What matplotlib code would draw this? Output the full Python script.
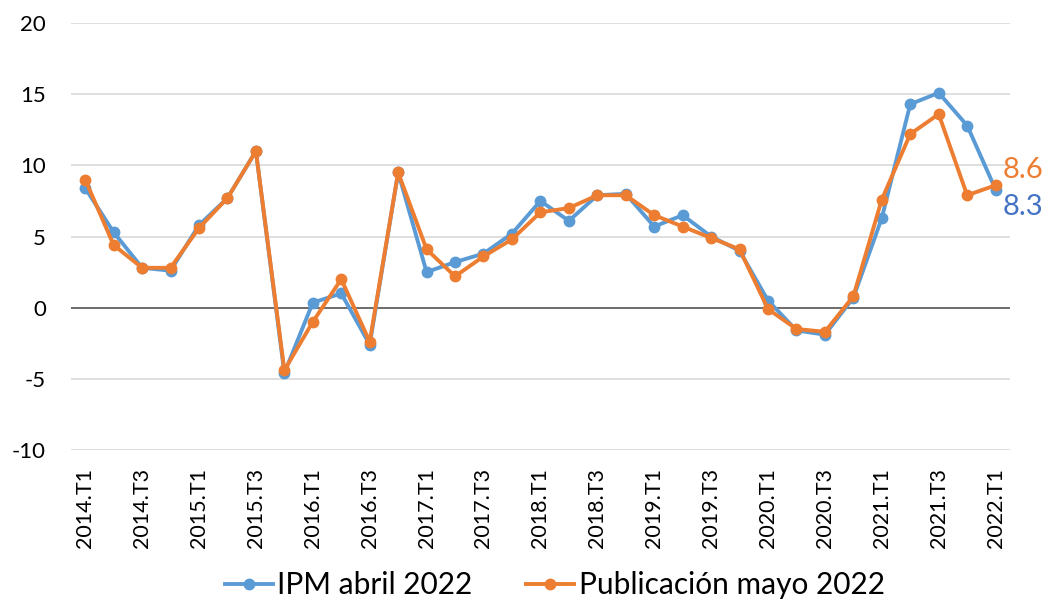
import matplotlib.pyplot as plt

plt.rcParams['font.family'] = ['Lato', 'DejaVu Sans']
plt.rcParams['axes.unicode_minus'] = False

# trimestres 2014.T1 - 2022.T1
trimestres = [f"{a}.T{t}" for a in range(2014, 2023) for t in range(1, 5)][:33]

ipm_abril = [8.4, 5.3, 2.8, 2.6, 5.8, 7.7, 11.0, -4.6, 0.35, 1.0, -2.6, 9.5,
             2.5, 3.2, 3.8, 5.2, 7.5, 6.1, 7.9, 8.0, 5.7, 6.5, 5.0, 4.0,
             0.5, -1.6, -1.9, 0.7, 6.3, 14.3, 15.1, 12.8, 8.3]
pub_mayo = [9.0, 4.4, 2.8, 2.8, 5.6, 7.7, 11.0, -4.4, -1.0, 2.0, -2.4, 9.5,
            4.1, 2.2, 3.6, 4.8, 6.7, 7.0, 7.9, 7.9, 6.5, 5.7, 4.9, 4.1,
            -0.1, -1.5, -1.7, 0.8, 7.6, 12.2, 13.6, 7.9, 8.6]

azul = '#5B9BD5'
naranja = '#ED7D31'

fig = plt.figure(figsize=(10.53, 6.08), dpi=100)
ax = fig.add_axes([0.0674, 0.260, 0.8916, 0.702])

x = list(range(len(trimestres)))
ax.plot(x, ipm_abril, color=azul, lw=2.8, marker='o', ms=7.5, label='IPM abril 2022', zorder=3)
ax.plot(x, pub_mayo, color=naranja, lw=2.8, marker='o', ms=7.5, label='Publicación mayo 2022', zorder=4)

ax.set_ylim(-10, 20)
ax.set_yticks(range(-10, 21, 5))
ax.set_xlim(-0.5, len(trimestres) - 0.5)
ax.set_xticks(x[::2])
ax.set_xticklabels(trimestres[::2], rotation=90, fontsize=15.5)
ax.tick_params(axis='y', labelsize=16, length=0, pad=18)
ax.tick_params(axis='x', length=0, pad=13)

ax.grid(axis='y', color='#D9D9D9', lw=1.2)
ax.axhline(0, color='#595959', lw=1.2, zorder=2)
for s in ax.spines.values():
    s.set_visible(False)

ax.text(len(trimestres) - 0.75, pub_mayo[-1] + 1.1, f"{pub_mayo[-1]:.1f}", color=naranja,
        fontsize=21, va='center', ha='left', clip_on=False)
ax.text(len(trimestres) - 0.75, ipm_abril[-1] - 1.2, f"{ipm_abril[-1]:.1f}", color='#4472C4',
        fontsize=21, va='center', ha='left', clip_on=False)

fig.legend(loc='lower center', bbox_to_anchor=(0.527, -0.03), ncol=2, frameon=False,
           fontsize=21.5, handlelength=1.6, columnspacing=1.8, handletextpad=0.15)

fig.savefig('out.png', dpi=100)
